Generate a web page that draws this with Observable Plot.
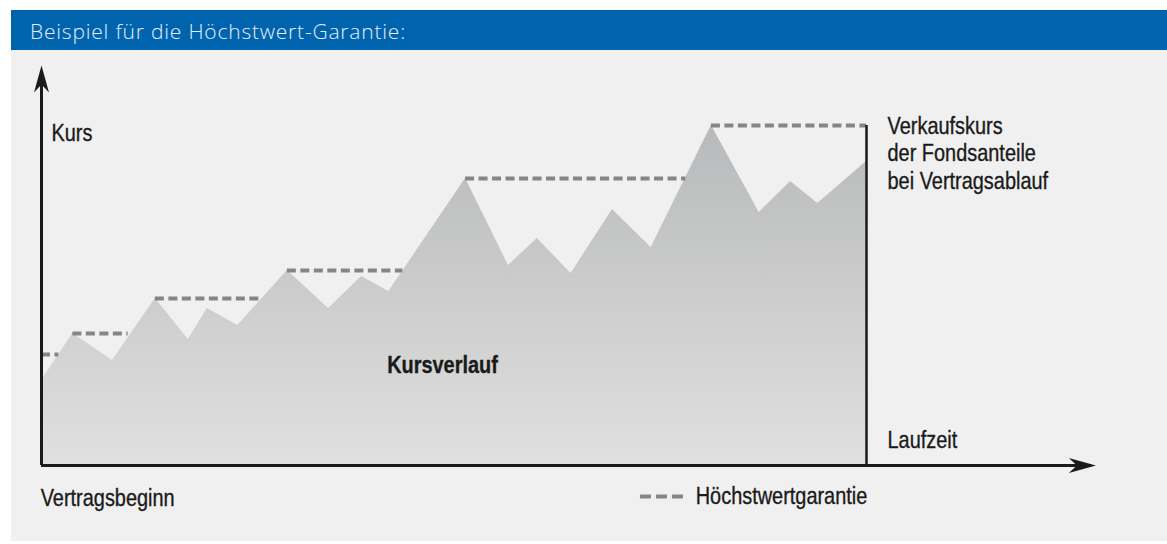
<!DOCTYPE html>
<html>
<head>
<meta charset="utf-8">
<script src="https://cdn.jsdelivr.net/npm/d3@7"></script>
<script src="https://cdn.jsdelivr.net/npm/@observablehq/plot@0.6"></script>
<style>
  html, body { margin: 0; padding: 0; background: #ffffff; width: 1167px; height: 544px; overflow: hidden; }
  #titlebar {
    position: absolute; left: 11px; top: 10px; width: 1156px; height: 40px;
    background: #0063ae; color: #e6eef7;
    font-family: "Open Sans", sans-serif; font-weight: 300; font-size: 21px;
    line-height: 42px; box-sizing: border-box; padding-left: 19px; letter-spacing: 0.8px;
  }
  #panel {
    position: absolute; left: 11px; top: 50px; width: 1156px; height: 491px;
    background: #f0f0f0;
  }
  #panel svg { display: block; overflow: visible; }
</style>
</head>
<body>
<div id="titlebar">Beispiel für die Höchstwert-Garantie:</div>
<div id="panel"></div>
<script>
// ---- data (x: Laufzeit 0..100, y: Kurs 0..100) ----
const kursTime  = [0, 3.8, 8.6, 13.8, 17.8, 20.1, 23.8, 29.8, 34.8, 38.8, 42.1, 51.4, 56.6, 60.1, 64.2, 69.2, 73.9, 81.2, 87.0, 90.8, 94.1, 100];
const kursValue = [21.25, 33, 26.25, 41.75, 31.5, 39.25, 35, 48.75, 39.25, 47.25, 43.5, 71.75, 50, 56.75, 48, 64, 54.5, 85, 63.25, 71, 65.5, 76];

const garantieStart = [0, 3.8, 13.8, 29.8, 51.4, 81.2];
const garantieEnd   = [2.1, 10.5, 26.7, 43.8, 78.1, 100];
const garantieLevel = [27.75, 33, 41.75, 48.75, 71.75, 85];

const laufzeitEnde = 100;       // Vertragsablauf
const xAxisEnd = 127.8;          // arrow tip of Laufzeit axis
const yAxisEnd = 100;            // arrow tip of Kurs axis

const labelKurs = "Kurs";
const labelVerkauf = "Verkaufskurs\nder Fondsanteile\nbei Vertragsablauf";
const labelLaufzeit = "Laufzeit";
const labelKursverlauf = "Kursverlauf";
const labelBeginn = "Vertragsbeginn";
const labelLegend = "Höchstwertgarantie";

// ---- derived tables ----
const kurs = kursTime.map((t, i) => ({t, v: kursValue[i]}));
const garantie = garantieLevel.map((v, i) => ({x1: garantieStart[i], x2: garantieEnd[i], y: v}));

const arrowHead = {
  draw(ctx) {
    ctx.moveTo(0, 0);
    ctx.lineTo(-7.5, 27);
    ctx.lineTo(0, 19);
    ctx.lineTo(7.5, 27);
    ctx.closePath();
  }
};

const font = "'Liberation Sans', Arial, Helvetica, sans-serif";
const ink = "#1a1a1a";
const txt = {textAnchor: "start", lineAnchor: "bottom", fontFamily: font, fontSize: 24, fill: ink, stroke: ink, strokeWidth: 0.35};

const chart = Plot.plot({
  width: 1156,
  height: 491,
  marginLeft: 30,
  marginRight: 301,
  marginTop: 15,
  marginBottom: 76,
  x: {domain: [0, 100], axis: null},
  y: {domain: [0, 100], axis: null},
  style: {background: "transparent", overflow: "visible"},
  marks: [
    Plot.areaY(kurs, {x: "t", y: "v", fill: "url(#kursGrad)", curve: "linear"}),
    Plot.ruleY(garantie, {y: "y", x1: "x1", x2: "x2", stroke: "#858585", strokeWidth: 4, strokeDasharray: "9,4.5"}),
    Plot.ruleX([laufzeitEnde], {y1: 0, y2: d3.max(garantieLevel), stroke: ink, strokeWidth: 2.5}),
    // axes
    Plot.ruleX([0], {y1: 0, y2: yAxisEnd - 2, stroke: ink, strokeWidth: 3}),
    Plot.ruleY([0], {x1: 0, x2: xAxisEnd - 1, stroke: ink, strokeWidth: 3}),
    Plot.dot([0], {x: 0, y: yAxisEnd, symbol: arrowHead, fill: ink, stroke: "none", r: 5}),
    Plot.dot([0], {x: xAxisEnd, y: 0, symbol: arrowHead, fill: ink, stroke: "none", r: 5, rotate: 90}),
    // labels
    Plot.text([labelKurs], {...txt, x: 1.2, y: 81.25, text: d => d}),
    Plot.text([labelVerkauf], {...txt, x: 102.55, y: 69.25, text: d => d, lineHeight: 1.13}),
    Plot.text([labelLaufzeit], {...txt, x: 102.55, y: 4.5, text: d => d}),
    Plot.text([labelKursverlauf], {...txt, x: 41.9, y: 23.25, text: d => d, fontWeight: "bold"}),
    Plot.text([labelBeginn], {...txt, x: -0.1, y: -10, text: d => d}),
    // legend
    Plot.ruleY([-7.75], {x1: 72.6, x2: 77.9, stroke: "#858585", strokeWidth: 4, strokeDasharray: "11,5"}),
    Plot.text([labelLegend], {...txt, x: 79.3, y: -9.5, text: d => d})
  ]
});

const svg = d3.select(chart);
const defs = svg.insert("defs", ":first-child");
const grad = defs.append("linearGradient").attr("id", "kursGrad").attr("x1", 0).attr("y1", 0).attr("x2", 0).attr("y2", 1);
grad.append("stop").attr("offset", "0%").attr("stop-color", "#b8b9ba");
grad.append("stop").attr("offset", "100%").attr("stop-color", "#e0e0e0");

// condensed look (Helvetica Condensed in the original): squeeze glyphs horizontally
const squeeze = 0.83;
svg.selectAll("text").each(function() {
  const t = this.getAttribute("transform");
  if (t && t.includes("translate")) {
    this.setAttribute("transform", t + ` scale(${squeeze},1)`);
  } else {
    const x = +(this.getAttribute("x") || 0);
    this.setAttribute("transform", `${t || ""} translate(${x},0) scale(${squeeze},1) translate(${-x},0)`);
  }
});

document.getElementById("panel").appendChild(chart);
</script>
</body>
</html>
